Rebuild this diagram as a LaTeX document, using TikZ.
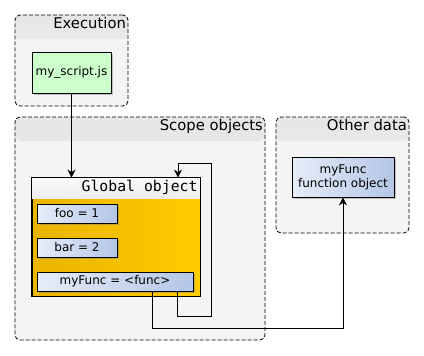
\documentclass[tikz,border=0pt]{standalone}
\usepackage{fontspec}
\setmainfont{DejaVu Sans}
\setmonofont{DejaVu Sans Mono}
\usetikzlibrary{arrows.meta,shadows}

\definecolor{groupfill}{HTML}{F4F4F4}
\definecolor{grouphead}{HTML}{E6E6E6}
\definecolor{scriptgreen}{HTML}{CCFFCC}
\definecolor{valleft}{HTML}{E6ECF8}
\definecolor{valright}{HTML}{B4C6E6}
\definecolor{globleft}{HTML}{EAB400}
\definecolor{globright}{HTML}{FFCC00}

\begin{document}
\begin{tikzpicture}[
    x=1pt,
    y=-1pt,
    line width=0.9pt,
    groupbox/.style={draw, line width=0.8pt, dash pattern=on 4pt off 2pt,
      rounded corners=5pt, fill=groupfill,
      path picture={\fill[top color=grouphead, bottom color=groupfill]
        (path picture bounding box.north west) rectangle
        ([yshift=-24pt]path picture bounding box.north east);}},
    grouplabel/.style={anchor=north east, inner sep=2pt,
      font=\fontsize{14.8}{17}\selectfont},
    valbox/.style={draw, left color=valleft, right color=valright,
      minimum height=19pt, inner sep=0pt, font=\fontsize{12}{14}\selectfont,
      drop shadow={opacity=0.45, shadow xshift=2pt, shadow yshift=-2pt}},
    link/.style={-{Stealth[length=8pt,width=8pt]}},
]

\useasboundingbox (0,0) rectangle (424,356);

% Groups
\node[groupbox, minimum width=113pt, minimum height=91pt] (execgrp) at (71.5,60.5) {};
\node[grouplabel] at (execgrp.north east) {Execution};

\node[groupbox, minimum width=250pt, minimum height=223pt] (scopegrp) at (140,228.5) {};
\node[grouplabel] at (scopegrp.north east) {Scope objects};

\node[groupbox, minimum width=133pt, minimum height=116pt] (othergrp) at (342.5,175) {};
\node[grouplabel] at (othergrp.north east) {Other data};

% Script
\node[draw, fill=scriptgreen, minimum width=79pt, minimum height=41pt, inner sep=0pt,
  font=\fontsize{12}{14}\selectfont,
  drop shadow={opacity=0.45, shadow xshift=2pt, shadow yshift=-2pt}]
  (script) at (71.5,72.5) {my\_script.js};

% Global object
\node[draw, left color=globleft, right color=globright, minimum width=168pt,
  minimum height=118pt] (globalobj) at (116,237) {};
\fill[top color=gray!4, bottom color=gray!14] (globalobj.north west) rectangle ([yshift=-21pt]globalobj.north east);
\draw (globalobj.north west) rectangle (globalobj.south east);
\node[anchor=north east, inner sep=2.5pt, font=\ttfamily\fontsize{14.8}{17}\selectfont]
  at (globalobj.north east) {Global object};

% Values
\node[valbox, minimum width=80pt] (valfoo) at (77,213.5) {foo = 1};
\node[valbox, minimum width=80pt] (valbar) at (77,247.5) {bar = 2};
\node[valbox, minimum width=156pt] (valfunc) at (115,281.5) {myFunc = <func>};

% Function object
\node[draw, left color=valleft, right color=valright, minimum width=102pt,
  minimum height=40pt, inner sep=0pt, align=center, font=\fontsize{12}{14}\selectfont,
  drop shadow={opacity=0.45, shadow xshift=2pt, shadow yshift=-2pt}]
  (funcobj) at (343,177) {myFunc\\function object};

% Bends
\coordinate (loopbend) at (211,316);
\coordinate (loopentry) at (178,163);
\coordinate (lowbend) at (343,328);

% Links
\draw[link] (script.south) -- (script.south |- globalobj.north);
\draw[link] ([xshift=62pt]valfunc.south) |- (loopbend) |- (loopentry) -- (loopentry |- globalobj.north);
\draw[link] ([xshift=37pt]valfunc.south) |- (lowbend) -- (funcobj.south);

\end{tikzpicture}
\end{document}
